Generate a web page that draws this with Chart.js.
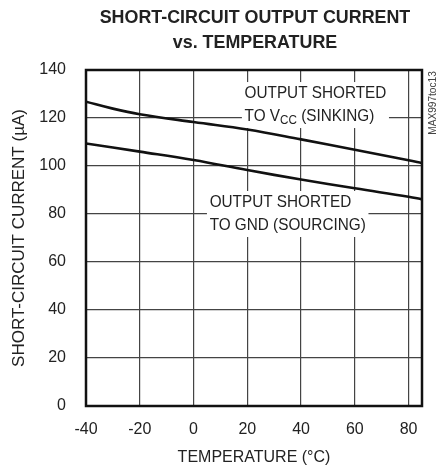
<!DOCTYPE html>
<html>
<head>
<meta charset="utf-8">
<script src="https://cdn.jsdelivr.net/npm/chart.js@4.4.0/dist/chart.umd.min.js"></script>
<style>
  html, body { margin: 0; padding: 0; background: #fff; }
  #wrap { position: relative; width: 446px; height: 472px; }
  #title {
    position: absolute; left: 62px; top: 4px; width: 386px;
    text-align: center; font: bold 19px "Liberation Sans", Arial, sans-serif;
    line-height: 25px; color: #222;
    transform: scaleX(0.94); transform-origin: 50% 0;
  }
</style>
</head>
<body>
<div id="wrap">
  <canvas id="chart" width="446" height="472"></canvas>
  <div id="title">SHORT-CIRCUIT OUTPUT CURRENT<br>vs. TEMPERATURE</div>
</div>
<script>
  // data
  const sinkTemps = [-40, -30, -20, 0, 20, 40, 60, 80, 85];
  const sinkCurrent = [126.8, 123.9, 121.6, 118.3, 115.2, 111.1, 106.8, 102.4, 101.2];
  const sourceTemps = [-40, -20, 0, 20, 40, 60, 80, 85];
  const sourceCurrent = [109.4, 106.0, 102.5, 98.3, 94.4, 90.7, 87.2, 86.1];
  const xTicks = [-40, -20, 0, 20, 40, 60, 80];
  const yTicks = [0, 20, 40, 60, 80, 100, 120, 140];

  const FONT = '"Liberation Sans", Arial, sans-serif';
  const ink = '#222';
  const SQ = 0.9; // squeeze for the in-plot notes

  // labels inside the plot, with white boxes behind them
  const notes = [
    { x: 19, y: 130.4, lines: ['OUTPUT SHORTED', ['TO V', 'CC', ' (SINKING)']] },
    { x: 6, y: 85, lines: ['OUTPUT SHORTED', 'TO GND (SOURCING)'] }
  ];

  function drawLine(ctx, parts, x, y) {
    if (typeof parts === 'string') { ctx.fillText(parts, x, y); return; }
    let cx = x;
    parts.forEach((p, i) => {
      if (i === 1) {
        ctx.font = '13px ' + FONT;
        ctx.fillText(p, cx, y + 4);
        cx += ctx.measureText(p).width;
        ctx.font = '17px ' + FONT;
      } else {
        ctx.fillText(p, cx, y);
        cx += ctx.measureText(p).width;
      }
    });
  }

  const notesPlugin = {
    id: 'notes',
    beforeDatasetsDraw(chart) {
      const ctx = chart.ctx;
      const xs = chart.scales.x, ys = chart.scales.y;
      notes.forEach(n => {
        const px = xs.getPixelForValue(n.x);
        const py = ys.getPixelForValue(n.y);
        const lh = 23;
        ctx.save();
        ctx.translate(px, py);
        ctx.scale(SQ, 1);
        ctx.font = '17px ' + FONT;
        ctx.textBaseline = 'middle';
        let w = 0;
        n.lines.forEach(l => {
          const s = typeof l === 'string' ? l : l.join('');
          w = Math.max(w, ctx.measureText(s).width);
        });
        ctx.fillStyle = '#fff';
        ctx.fillRect(-3, -11, w + 6, lh * n.lines.length);
        ctx.fillStyle = ink;
        n.lines.forEach((l, i) => drawLine(ctx, l, 0, i * lh));
        ctx.restore();
      });
    },
    afterDraw(chart) {
      const ctx = chart.ctx;
      const a = chart.chartArea;
      ctx.save();
      ctx.strokeStyle = '#111';
      ctx.lineWidth = 2.5;
      ctx.strokeRect(a.left, a.top, a.right - a.left, a.bottom - a.top);
      // figure code
      ctx.translate(433, a.top + 33);
      ctx.rotate(-Math.PI / 2);
      ctx.scale(0.92, 1);
      ctx.font = '11px ' + FONT;
      ctx.fillStyle = '#444';
      ctx.textAlign = 'center';
      ctx.textBaseline = 'middle';
      ctx.fillText('MAX997toc13', 0, 0);
      ctx.restore();
    }
  };

  new Chart(document.getElementById('chart'), {
    type: 'line',
    data: {
      datasets: [
        {
          label: 'sinking',
          data: sinkTemps.map((t, i) => ({ x: t, y: sinkCurrent[i] })),
          borderColor: '#111', borderWidth: 2.6, pointRadius: 0,
          tension: 0.4
        },
        {
          label: 'sourcing',
          data: sourceTemps.map((t, i) => ({ x: t, y: sourceCurrent[i] })),
          borderColor: '#111', borderWidth: 2.6, pointRadius: 0,
          tension: 0.4
        }
      ]
    },
    options: {
      responsive: false,
      animation: false,
      devicePixelRatio: 1,
      layout: { padding: { top: 70, right: 24, left: 0, bottom: 0 } },
      plugins: { legend: { display: false }, tooltip: { enabled: false } },
      scales: {
        x: {
          type: 'linear', min: -40, max: 85,
          afterBuildTicks: s => { s.ticks = xTicks.map(v => ({ value: v })); },
          afterFit: s => { s.height = 66; },
          grid: { color: '#444', lineWidth: 1.2, drawTicks: false },
          border: { display: false },
          ticks: { color: ink, font: { family: FONT, size: 16 }, padding: 14, maxRotation: 0 },
          title: { display: true, text: 'TEMPERATURE (°C)', color: ink, font: { family: FONT, size: 16 }, padding: { top: 0, bottom: 5 } }
        },
        y: {
          min: 0, max: 140,
          afterBuildTicks: s => { s.ticks = yTicks.map(v => ({ value: v })); },
          afterFit: s => { s.width = 86; },
          grid: { color: '#444', lineWidth: 1.2, drawTicks: false },
          border: { display: false },
          ticks: { color: ink, font: { family: FONT, size: 16 }, padding: 20 },
          title: { display: true, text: 'SHORT-CIRCUIT CURRENT (µA)', color: ink, font: { family: FONT, size: 17 }, padding: { top: 9, bottom: 0 } }
        }
      }
    },
    plugins: [notesPlugin]
  });
</script>
</body>
</html>
